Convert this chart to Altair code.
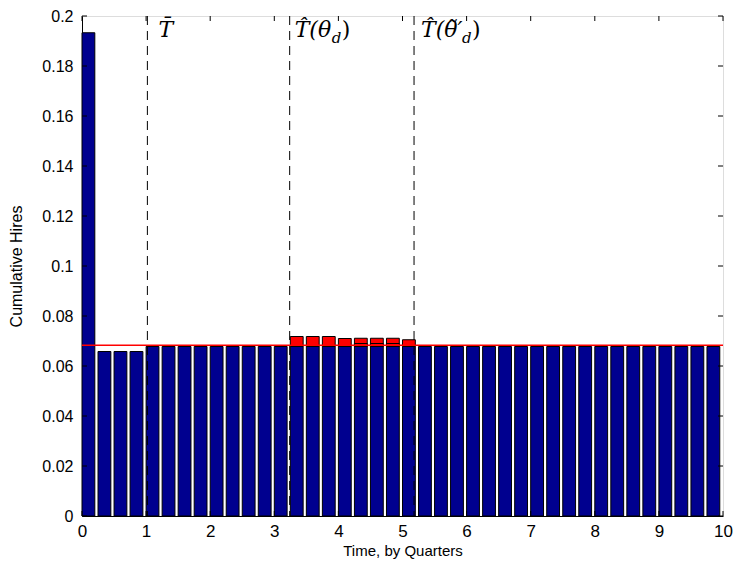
import altair as alt
import pandas as pd

# ---------------- data ----------------
bar_heights = [0.1933, 0.0658, 0.0658, 0.0658] + [0.0678] * 36
slot = 0.25
bar_w = 0.2
red_index = [13, 14, 15, 16, 17, 18, 19, 20]
red_tops = [0.0718, 0.0718, 0.0718, 0.0710, 0.0711, 0.0711, 0.0711, 0.0705]
inner_index = [17, 18, 19]
inner_tops = [0.0690, 0.0690, 0.0690]
ref_level = 0.0683
vlines = [1.02, 3.24, 5.18]
label_main = ["T\u0304", "T\u0302(\u03b8", "T\u0302(\u03b8\u0303\u2032"]
label_sub = ["", "d", "d"]
label_close = ["", ")", ")"]
label_y = 0.1945
x_ticks = list(range(0, 11))
y_ticks = [0, 0.02, 0.04, 0.06, 0.08, 0.1, 0.12, 0.14, 0.16, 0.18, 0.2]

BLUE = "#00008F"
RED = "#FF0000"
W, H = 641, 500
FONT = "Liberation Sans"
SERIF = "DejaVu Serif"

xs = alt.Scale(domain=[0, 10], nice=False, zero=False)
ys = alt.Scale(domain=[0, 0.2], nice=False, zero=True)

x_axis = alt.Axis(values=x_ticks, format="d", labelFont=FONT, labelFontSize=17,
                  labelColor="black", ticks=False, labelPadding=7, domainColor="black",
                  grid=False, titleFont=FONT, titleFontSize=15, titleFontWeight="normal",
                  titleColor="black", titlePadding=4, labelFlush=False)
y_axis = alt.Axis(values=y_ticks, format="~g", labelFont=FONT, labelFontSize=16,
                  labelColor="black", ticks=False, labelPadding=9, domainColor="black",
                  grid=False, titleFont=FONT, titleFontSize=16, titleFontWeight="normal",
                  titleColor="black", titlePadding=17, labelFlush=False)


def X(f):
    return alt.X(f, type="quantitative", scale=xs, axis=x_axis, title="Time, by Quarters")


def Y(f):
    return alt.Y(f, type="quantitative", scale=ys, axis=y_axis, title="Cumulative Hires")


bars_df = pd.DataFrame({
    "x0": [k * slot for k in range(len(bar_heights))],
    "x1": [k * slot + bar_w for k in range(len(bar_heights))],
    "y0": [0.0] * len(bar_heights),
    "y1": bar_heights,
})
bars = alt.Chart(bars_df).mark_rect(color=BLUE, stroke="black", strokeWidth=1).encode(
    x=X("x0"), x2="x1", y=Y("y0"), y2="y1")

red_df = pd.DataFrame({
    "x0": [k * slot for k in red_index],
    "x1": [k * slot + bar_w for k in red_index],
    "y0": [bar_heights[k] for k in red_index],
    "y1": red_tops,
})
red_bars = alt.Chart(red_df).mark_rect(color=RED, stroke="black", strokeWidth=1).encode(
    x=X("x0"), x2="x1", y=Y("y0"), y2="y1")

inner_df = pd.DataFrame({
    "x0": [k * slot for k in inner_index],
    "x1": [k * slot + bar_w for k in inner_index],
    "y0": [bar_heights[k] for k in inner_index],
    "y1": inner_tops,
})
inner_bars = alt.Chart(inner_df).mark_rect(color=RED, stroke="black", strokeWidth=1).encode(
    x=X("x0"), x2="x1", y=Y("y0"), y2="y1")

ref_df = pd.DataFrame({"x0": [0], "x1": [10], "y": [ref_level]})
ref_line = alt.Chart(ref_df).mark_rule(color=RED, strokeWidth=1.5).encode(
    x=X("x0"), x2="x1", y=Y("y"))

vl_df = pd.DataFrame({"x": vlines})
dashes = alt.Chart(vl_df).mark_rule(color="black", strokeWidth=1, strokeDash=[9, 6]).encode(
    x=X("x"), y=alt.value(0), y2=alt.value(H))

# inward tick marks (MATLAB style)
xt_df = pd.DataFrame({"v": x_ticks})
yt_df = pd.DataFrame({"v": y_ticks})
tick_b = alt.Chart(xt_df).mark_rule(color="black").encode(x=X("v"), y=alt.value(H), y2=alt.value(H - 5))
tick_t = alt.Chart(xt_df).mark_rule(color="black").encode(x=X("v"), y=alt.value(0), y2=alt.value(5))
tick_l = alt.Chart(yt_df).mark_rule(color="black").encode(y=Y("v"), x=alt.value(0), x2=alt.value(5))
tick_r = alt.Chart(yt_df).mark_rule(color="black").encode(y=Y("v"), x=alt.value(W), x2=alt.value(W - 5))

# labels
main_dx = [11, 5, 7]
sub_dx = [0, 42, 48]
close_dx = [0, 52, 58]
texts = []
for i in range(3):
    d = pd.DataFrame({"x": [vlines[i]], "y": [label_y], "t": [label_main[i]]})
    texts.append(alt.Chart(d).mark_text(align="left", baseline="middle", font=SERIF,
                                        fontStyle="italic", fontSize=22, dx=main_dx[i],
                                        color="black").encode(x=X("x"), y=Y("y"), text="t:N"))
    if label_sub[i]:
        d2 = pd.DataFrame({"x": [vlines[i]], "y": [label_y], "t": [label_sub[i]]})
        texts.append(alt.Chart(d2).mark_text(align="left", baseline="middle", font=SERIF,
                                             fontStyle="italic", fontSize=15, dx=sub_dx[i], dy=8,
                                             color="black").encode(x=X("x"), y=Y("y"), text="t:N"))
        d3 = pd.DataFrame({"x": [vlines[i]], "y": [label_y], "t": [label_close[i]]})
        texts.append(alt.Chart(d3).mark_text(align="left", baseline="middle", font=SERIF,
                                             fontStyle="normal", fontSize=22, dx=close_dx[i],
                                             color="black").encode(x=X("x"), y=Y("y"), text="t:N"))

chart = alt.layer(bars, red_bars, inner_bars, ref_line, dashes, tick_b, tick_t, tick_l, tick_r,
                  *texts).properties(
    width=W, height=H,
    autosize=alt.AutoSizeParams(type="none"),
    padding={"left": 74, "top": 8, "right": 10, "bottom": 43},
).configure_view(stroke="black", strokeWidth=1).configure(background="white")

chart.save("out.html", embed_options={"renderer": "svg", "actions": False})
